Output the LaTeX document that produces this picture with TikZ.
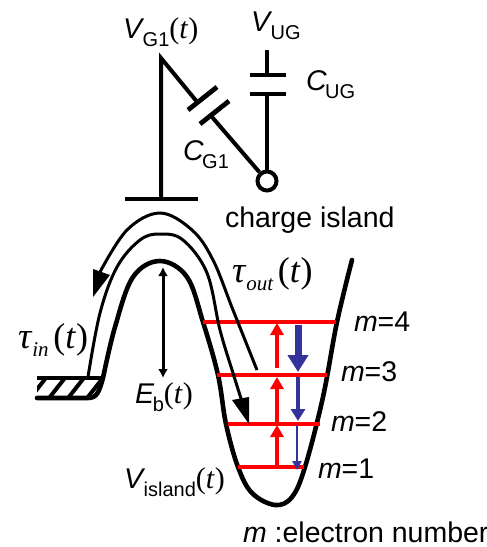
\documentclass[tikz,border=0pt]{standalone}
\usepackage{fontspec}
\setmainfont{Liberation Sans}
\newfontfamily\serifit[Ligatures=TeX]{Liberation Serif}
\usetikzlibrary{arrows.meta}
\newcommand{\lblfont}{\fontsize{28.5}{30}\selectfont}
\newcommand{\subs}[1]{\kern-1.5pt\raisebox{-8pt}{\fontsize{20}{22}\selectfont #1}}
\newcommand{\subit}[1]{\raisebox{-8.5pt}{\fontsize{21}{23}\selectfont\serifit\itshape #1}}
\newcommand{\tpar}{{\serifit\fontsize{30}{32}\selectfont(\textit{t})}}
\newcommand{\tbig}{{\serifit\fontsize{36}{38}\selectfont(\textit{t})}}
\newcommand{\tauglyph}{{\serifit\fontsize{37}{40}\selectfont\textit{τ}}}
\definecolor{lev}{RGB}{255,0,0}
\definecolor{dn}{RGB}{51,51,153}
\tikzset{
 txt/.style={anchor=base west,inner sep=0pt,outer sep=0pt,font=\lblfont},
 wire/.style={line width=4pt,black},
 plate/.style={line width=4.8pt,black},
 well/.style={line width=4.6pt,black,line cap=round,line join=round},
 path1/.style={line width=3pt,black},
 level/.style={line width=3.4pt,lev},
 up/.style={line width=4.4pt,lev,-{Triangle[length=12pt,width=13pt]}},
}
\begin{document}
\begin{tikzpicture}[x=1pt,y=-1pt]
\useasboundingbox (0,0) rectangle (487,547);
% circuit
\coordinate (gtop) at (161,58);
\coordinate (gbot) at (161,199);
\coordinate (p1) at (198,103);
\coordinate (p2) at (212,117);
\coordinate (ugtop) at (267,50);
\coordinate (ug1) at (267,75);
\coordinate (ug2) at (267,94);
\node[circle,draw,line width=4pt,minimum size=19pt,inner sep=0pt] (isl) at (267,181) {};
\draw[wire,line join=miter] (gbot) -- (gtop) -- (p1);
\draw[wire] (p2) -- (isl);
\draw[wire] (ugtop) -- (ug1);
\draw[wire] (ug2) -- (isl);
\draw[plate] (125,199) -- (198,199);
\draw[plate] (250,75) -- (286,75);
\draw[plate] (250,94) -- (286,94);
\draw[plate] (188,110) -- (217,87);
\draw[plate] (200,124) -- (229,101);
% reservoir
\begin{scope}
\clip (37,378) -- (103,378) -- (100,390) -- (90,398) -- (37,398) -- cycle;
\foreach \i in {0,...,4} \draw[line width=4pt] ({27+\i*19},402) -- ({49+\i*19},374);
\end{scope}
\draw[line width=4.4pt] (37,378) -- (103,378);
% well
\draw[well] (37,398) -- (88,398) .. controls (97,398) and (99,392) .. (103,378)
 plot[smooth,tension=0.6] coordinates {(103,378) (115,327) (133,277) (160,261) (187,277) (203,322) (218,375) (226,424) (238,467) (252,493) (275,505) (292,497) (305,467) (323,397) (337,322) (352,260)};
% levels
\draw[level] (203,322) -- (336,322);
\draw[level] (217,375) -- (327,375);
\draw[level] (228,424) -- (320,424);
\draw[level] (238,467) -- (304,467);
% tunneling paths
\draw[path1] plot[smooth,tension=0.6] coordinates {(88,377) (100,313) (117,267) (140,240) (160,234) (183,240) (207,273) (220,330) (233,373) (244,408)};
\fill (249,424) -- (232,400) -- (249,397) -- cycle;
\draw[path1] plot[smooth,tension=0.6] coordinates {(257,370) (233,310) (213,260) (192,230) (160,213) (127,230) (100,272)};
\fill (93,297) -- (93,269) -- (110,275) -- cycle;
% transitions
\draw[up] (277,468) -- (277,425);
\draw[up] (277,424) -- (277,377);
\draw[up] (277,368) -- (277,323);
\draw[line width=7pt,dn,-{Triangle[length=17pt,width=20pt]}] (298,325) -- (298,372);
\draw[line width=4pt,dn,-{Triangle[length=12pt,width=14pt]}] (298,377) -- (298,421);
\draw[line width=2.4pt,dn,-{Triangle[length=9pt,width=9pt]}] (297,425) -- (297,470);
% barrier height
\draw[line width=3pt,{Latex[length=9pt,width=10pt]}-{Latex[length=9pt,width=10pt]}] (163,267) -- (163,378);
% labels
\node[txt] (lvg) at (123,38) {\textit{V}\subs{G1}\tpar};
\node[txt] (lvu) at (251,31) {\textit{V}\subs{UG}};
\node[txt] (lcu) at (306,90) {\textit{C}\subs{UG}};
\node[txt] (lcg) at (183,160) {\textit{C}\subs{G1}};
\node[txt] (lisl) at (225,227) {charge island};
\node[txt] (lto) at (232,282) {\tauglyph\subit{out}\,\tbig};
\node[txt] (lti) at (18,348) {\tauglyph\subit{in}\,\tbig};
\node[txt] (leb) at (135,403) {\textit{E}\subs{b}\tpar};
\node[txt] (lvi) at (124,488) {\textit{V}\subs{island}\tpar};
\node[txt] (m4) at (354,331) {\textit{m}=4};
\node[txt] (m3) at (341,381) {\textit{m}=3};
\node[txt] (m2) at (331,431) {\textit{m}=2};
\node[txt] (m1) at (318,478) {\textit{m}=1};
\node[txt] (men) at (243,542) {\textit{m} :electron number};
\end{tikzpicture}
\end{document}
